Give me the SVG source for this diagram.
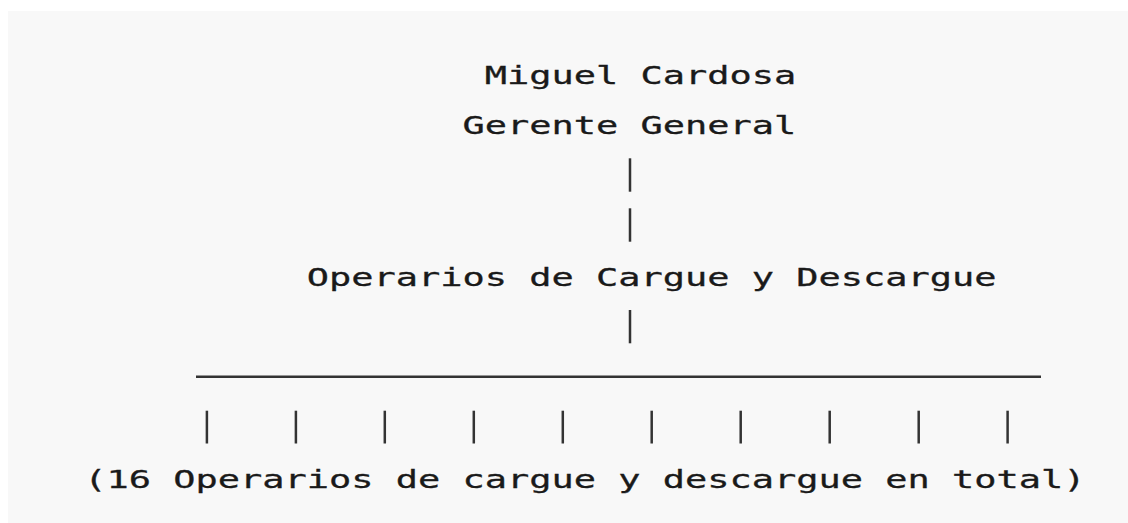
<svg xmlns="http://www.w3.org/2000/svg" width="1128" height="523" viewBox="0 0 1128 523">
  <style>
    .t { font-family: "DejaVu Sans Mono", "Liberation Mono", monospace; font-size: 25.5px; fill: #1a1a1a; stroke: #1a1a1a; stroke-width: 0.3; }
    .c { stroke: #333; stroke-width: 2.5; fill: none; }
  </style>
  <rect x="0" y="0" width="1128" height="523" fill="#ffffff"/>
  <rect x="8" y="11" width="1120" height="512" fill="#f8f8f8"/>
  <g id="node-gerente">
    <text class="t" x="484.8" y="83.5" textLength="311.5" lengthAdjust="spacingAndGlyphs">Miguel Cardosa</text>
    <text class="t" x="462.55" y="134" textLength="333.75" lengthAdjust="spacingAndGlyphs">Gerente General</text>
  </g>
  <g id="node-operarios">
    <text class="t" x="306.8" y="285.5" textLength="689.75" lengthAdjust="spacingAndGlyphs">Operarios de Cargue y Descargue</text>
  </g>
  <g id="node-total">
    <text class="t" x="84.3" y="487.5" textLength="1001.25" lengthAdjust="spacingAndGlyphs">(16 Operarios de cargue y descargue en total)</text>
  </g>
  <g id="connectors" class="c">
    <line x1="630" y1="158.3" x2="630" y2="191.7"/>
    <line x1="630" y1="208.3" x2="630" y2="241.7"/>
    <line x1="630" y1="310" x2="630" y2="343.3"/>
    <line x1="196" y1="376.7" x2="1041" y2="376.7"/>
    <line x1="206.9" y1="410.7" x2="206.9" y2="443.5"/>
    <line x1="295.9" y1="410.7" x2="295.9" y2="443.5"/>
    <line x1="384.8" y1="410.7" x2="384.8" y2="443.5"/>
    <line x1="473.8" y1="410.7" x2="473.8" y2="443.5"/>
    <line x1="562.8" y1="410.7" x2="562.8" y2="443.5"/>
    <line x1="651.7" y1="410.7" x2="651.7" y2="443.5"/>
    <line x1="740.7" y1="410.7" x2="740.7" y2="443.5"/>
    <line x1="829.7" y1="410.7" x2="829.7" y2="443.5"/>
    <line x1="918.7" y1="410.7" x2="918.7" y2="443.5"/>
    <line x1="1007.6" y1="410.7" x2="1007.6" y2="443.5"/>
  </g>
</svg>
